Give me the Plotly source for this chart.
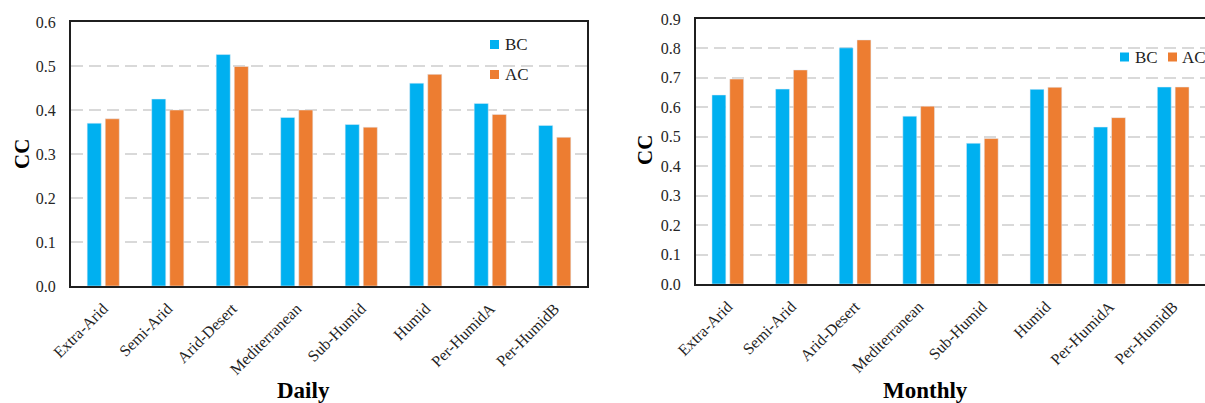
import plotly.graph_objects as go

# Climate zones on the x axis
zones = ["Extra-Arid", "Semi-Arid", "Arid-Desert", "Mediterranean",
         "Sub-Humid", "Humid", "Per-HumidA", "Per-HumidB"]

# Correlation coefficient, daily scale
daily_bc = [0.370, 0.425, 0.526, 0.383, 0.367, 0.461, 0.415, 0.365]
daily_ac = [0.380, 0.400, 0.499, 0.400, 0.361, 0.481, 0.390, 0.338]

# Correlation coefficient, monthly scale
monthly_bc = [0.642, 0.662, 0.802, 0.570, 0.478, 0.661, 0.533, 0.669]
monthly_ac = [0.696, 0.727, 0.829, 0.604, 0.494, 0.668, 0.565, 0.669]

daily_ticks = [0.0, 0.1, 0.2, 0.3, 0.4, 0.5, 0.6]
monthly_ticks = [0.0, 0.1, 0.2, 0.3, 0.4, 0.5, 0.6, 0.7, 0.8, 0.9]

BLUE = "#00B0F0"
ORANGE = "#ED7D31"
SERIF = "Liberation Serif"
INK = "#1f1f1f"
W, H = 1205, 403


def px_x(p):
    return p / W


def px_y(p):
    return 1 - p / H


fig = go.Figure()

fig.add_bar(x=zones, y=daily_bc, name="BC", marker_color=BLUE,
            xaxis="x", yaxis="y", showlegend=False)
fig.add_bar(x=zones, y=daily_ac, name="AC", marker_color=ORANGE,
            xaxis="x", yaxis="y", showlegend=False)
fig.add_bar(x=zones, y=monthly_bc, name="BC", marker_color=BLUE,
            xaxis="x2", yaxis="y2", showlegend=False)
fig.add_bar(x=zones, y=monthly_ac, name="AC", marker_color=ORANGE,
            xaxis="x2", yaxis="y2", showlegend=False)

xcommon = dict(
    type="category", showgrid=False, ticks="", tickangle=-45, automargin=False,
    ticklabelstandoff=5,
    tickfont=dict(family=SERIF, size=16, color=INK),
    showline=True, linecolor=INK, linewidth=2,
)
ycommon = dict(
    showgrid=True, gridcolor="#D9D9D9", gridwidth=1.5, griddash="12px,6px",
    ticks="", tickformat=".1f", zeroline=False, automargin=False,
    ticklabelstandoff=10,
    tickfont=dict(family=SERIF, size=16, color="#262626"),
    showline=True, linecolor=INK, linewidth=2,
)

fig.update_layout(
    width=W, height=H,
    margin=dict(l=0, r=0, t=0, b=0),
    paper_bgcolor="white", plot_bgcolor="white",
    bargap=0.44, bargroupgap=0.22, barmode="group",
    showlegend=False,
    xaxis=dict(xcommon, domain=[px_x(71), px_x(587)], anchor="y", mirror=True),
    yaxis=dict(ycommon, domain=[px_y(286), px_y(22)], anchor="x",
               range=[0, 0.6], tickvals=daily_ticks, mirror=True),
    xaxis2=dict(xcommon, domain=[px_x(696), 1.0], anchor="y2", mirror=True),
    yaxis2=dict(ycommon, domain=[px_y(284), px_y(19)], anchor="x2",
                range=[0, 0.9], tickvals=monthly_ticks, mirror=False),
)

# White panel behind the monthly legend
fig.add_shape(type="rect", xref="paper", yref="y2", layer="between",
              x0=px_x(1107), x1=1.0, y0=0.66, y1=0.88,
              fillcolor="white", line_width=0)

# Legend keys: (square left, centre y, text left, label, colour)
keys = [
    (490, 44.5, 502.5, "BC", BLUE),
    (490, 74.5, 502.5, "AC", ORANGE),
    (1120, 57, 1132.5, "BC", BLUE),
    (1168, 57, 1179.5, "AC", ORANGE),
]
for sx, cy, tx, label, col in keys:
    fig.add_shape(type="rect", xref="paper", yref="paper",
                  x0=px_x(sx), x1=px_x(sx + 9),
                  y0=px_y(cy + 4.5), y1=px_y(cy - 4.5),
                  fillcolor=col, line_width=0)
    fig.add_annotation(x=px_x(tx), y=px_y(cy), xref="paper", yref="paper",
                       xanchor="left", yanchor="middle", showarrow=False,
                       text=label, font=dict(family=SERIF, size=17, color=INK))

# Axis titles
for x, y, t in [(22, 154, "CC"), (645, 150, "CC")]:
    fig.add_annotation(x=px_x(x), y=px_y(y), xref="paper", yref="paper",
                       xanchor="center", yanchor="middle",
                       showarrow=False, textangle=-90, text="<b>" + t + "</b>",
                       font=dict(family=SERIF, size=21, color="black"))
for x, t in [(303, "Daily"), (925, "Monthly")]:
    fig.add_annotation(x=px_x(x), y=px_y(390), xref="paper", yref="paper",
                       showarrow=False, text="<b>" + t + "</b>",
                       xanchor="center", yanchor="middle",
                       font=dict(family=SERIF, size=23, color="black"))

fig.write_html("out.html")
